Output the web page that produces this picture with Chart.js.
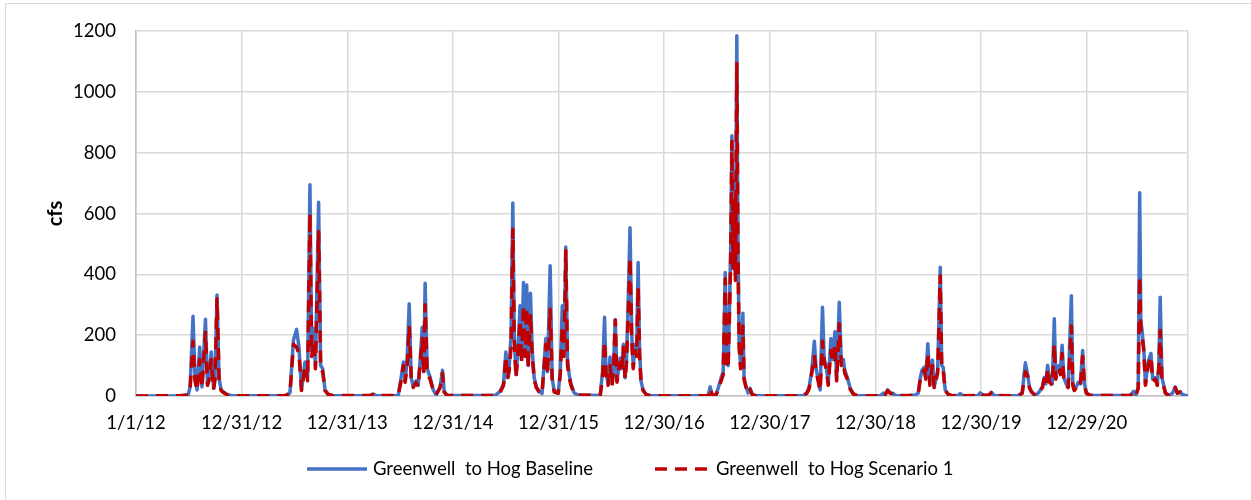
<!DOCTYPE html>
<html><head><meta charset="utf-8">
<script src="https://cdn.jsdelivr.net/npm/chart.js@4/dist/chart.umd.min.js"></script>
<style>
html,body{margin:0;padding:0;background:#fff;overflow:hidden;}
#wrap{position:relative;width:1251px;height:500px;overflow:hidden;}
#frame{position:absolute;left:5px;top:3px;width:1400px;height:700px;border:1px solid #d9d9d9;box-sizing:border-box;}
canvas{position:absolute;left:0;top:0;}
</style></head><body>
<div id="wrap"><div id="frame"></div><canvas id="c" width="1251" height="500"></canvas></div>
<script>
// Day index counted from 1/1/12
const days = [
  0,152,180,187,197,204,211,220,228,240,247,252,260,268,273,280,287,294,301,315,332,
  515,532,544,555,563,572,584,593,601,607,613,620,631,638,645,653,664,681,
  809,819,830,906,916,924,930,937,944,951,958,968,975,982,989,994,999,1006,1016,1027,1037,1051,1059,1065,1075,
  1241,1258,1270,1278,1284,1289,1296,1302,1307,1313,1320,1327,1332,1339,1345,1350,1355,1363,1369,1376,1383,1393,1403,1416,1422,1431,1438,1445,1459,1466,1473,1479,1485,1491,1497,1503,1514,1528,
  1604,1612,1619,1624,1631,1638,1645,1650,1656,1662,1669,1673,1678,1684,1690,1695,1702,1707,1713,1718,1725,1730,1735,1740,1745,1752,1763,1777,
  1977,1984,1991,2005,2016,2022,2029,2036,2041,2046,2051,2055,2059,2063,2068,2071,2076,2080,2084,2089,2097,2101,2108,2115,2122,2129,2139,
  2305,2318,2326,2335,2344,2350,2357,2364,2372,2378,2385,2392,2401,2407,2415,2421,2430,2437,2444,2449,2458,2468,2478,2492,
  2572,2583,2589,2597,2606,2616,2627,
  2675,2692,2703,2710,2716,2724,2729,2736,2743,2752,2758,2765,2770,2779,2784,2789,2796,2807,2820,
  2841,2848,2858,2910,2917,2928,2948,2955,2966,
  3021,3049,3062,3073,3081,3087,3094,3107,3118,3125,3132,3138,3144,3150,3157,3166,3173,3178,3183,3189,3194,3200,3206,3214,3221,3232,3237,3242,3249,3256,3263,3271,3277,3284,3297,
  3436,3447,3455,3463,3468,3472,3476,3482,3488,3493,3498,3507,3513,3522,3529,3534,3539,3545,3550,3557,3567,3581,3591,3598,3608,3615,3626,3635
];
const baseline = [
  0,1,3,30,262,60,20,161,30,252,40,60,145,25,60,332,60,20,14,4,1,
  1,10,183,219,161,20,112,60,695,150,222,100,637,100,90,20,6,1,
  2,6,1,2,60,112,50,120,303,60,30,50,35,120,226,80,371,90,63,20,4,30,85,15,2,
  2,15,40,145,60,90,200,635,200,70,150,297,120,373,150,365,100,338,150,60,30,15,8,189,80,428,60,15,10,80,297,150,490,120,70,40,10,3,
  2,80,259,80,40,128,40,100,251,50,100,124,90,170,60,120,363,553,200,100,170,150,439,150,50,20,5,1,
  1,30,2,5,40,60,80,406,120,100,300,500,856,450,720,400,1185,500,180,100,272,60,30,10,25,5,1,
  1,10,30,85,180,90,55,20,292,120,100,40,189,120,211,55,308,115,120,85,60,25,8,1,
  1,10,5,20,10,8,1,
  2,3,10,60,85,95,60,172,40,118,30,60,85,423,100,95,20,5,1,
  2,8,1,2,10,2,3,12,2,
  1,2,10,109,70,30,15,2,10,20,30,61,40,101,50,40,254,60,85,100,80,167,60,40,30,330,40,20,30,45,40,150,40,10,2,
  2,15,2,30,668,250,216,160,40,80,115,140,55,60,40,100,325,60,40,10,3,8,30,10,15,5,2,1
];
const scenario = [
  0,1,3,25,180,50,18,120,28,210,35,50,120,22,55,320,55,18,12,4,1,
  1,8,170,160,140,18,100,50,600,130,180,90,540,90,80,18,5,1,
  2,5,1,2,50,100,45,100,230,60,28,45,30,110,190,70,300,80,55,18,4,28,75,13,2,
  2,12,35,130,55,80,160,548,180,60,140,250,110,300,130,290,90,270,130,55,28,13,7,170,70,285,55,13,9,70,230,130,478,100,60,35,9,3,
  2,60,180,70,35,100,35,80,250,45,90,110,80,160,55,110,300,454,180,90,150,130,357,130,45,18,5,1,
  1,25,2,5,35,50,70,385,100,90,280,460,837,420,650,380,1098,460,160,90,230,55,28,9,22,5,1,
  1,9,25,75,130,80,50,18,180,110,90,35,150,110,170,50,238,100,110,75,55,22,7,1,
  1,9,5,18,9,7,1,
  2,3,9,55,75,85,55,140,35,100,28,55,75,395,90,85,18,5,1,
  2,7,1,2,9,2,3,11,2,
  1,2,9,80,65,28,13,2,9,18,28,55,35,90,45,35,170,55,75,90,70,140,55,35,28,230,35,18,28,40,35,130,35,9,2,
  2,13,2,25,392,220,200,150,35,70,100,130,50,55,35,90,215,55,35,9,3,7,28,9,13,5,2,1
];
const seriesNames = ['Greenwell  to Hog Baseline', 'Greenwell  to Hog Scenario 1'];
const tickDays = [0,365,730,1095,1460,1825,2190,2555,2920,3285];
const tickLabels = ['1/1/12','12/31/12','12/31/13','12/31/14','12/31/15','12/30/16','12/30/17','12/30/18','12/30/19','12/29/20'];
const xMax = 3635;
const yMax = 1200;
const yStep = 200;

const toPoints = vals => days.map((d, i) => ({x: d, y: vals[i]}));
const FONT = 'Lato';

const legendPlugin = {
  id: 'bottomLegend',
  afterDraw(chart) {
    const ctx = chart.ctx;
    const y = 469;
    const items = [{x0: 307, x1: 367, tx: 373, ds: 0}, {x0: 655, x1: 711, tx: 716, ds: 1}];
    ctx.save();
    items.forEach(it => {
      const ds = chart.data.datasets[it.ds];
      ctx.beginPath();
      ctx.strokeStyle = ds.borderColor;
      ctx.lineWidth = ds.borderWidth;
      ctx.lineCap = 'butt';
      ctx.setLineDash(ds.borderDash || []);
      ctx.moveTo(it.x0, y);
      ctx.lineTo(it.x1, y);
      ctx.stroke();
      ctx.setLineDash([]);
      ctx.fillStyle = '#000';
      ctx.font = '18.5px ' + FONT;
      ctx.textBaseline = 'middle';
      ctx.textAlign = 'left';
      ctx.fillText(ds.label, it.tx, y);
    });
    ctx.restore();
  }
};

new Chart(document.getElementById('c'), {
  type: 'line',
  data: {
    datasets: [
      {label: seriesNames[0], data: toPoints(baseline), borderColor: '#4472C4', backgroundColor: '#4472C4',
       borderWidth: 3.5, pointRadius: 0, tension: 0, order: 1, borderJoinStyle: 'round'},
      {label: seriesNames[1], data: toPoints(scenario), borderColor: '#C00000', backgroundColor: '#C00000',
       borderWidth: 3.5, borderDash: [12, 8], pointRadius: 0, tension: 0, order: 0, borderJoinStyle: 'round'}
    ]
  },
  options: {
    responsive: false,
    animation: false,
    layout: {padding: {top: 29, right: 63, left: 0, bottom: 0}},
    plugins: {legend: {display: false}, tooltip: {enabled: false}},
    scales: {
      x: {
        type: 'linear', min: 0, max: xMax,
        afterBuildTicks(s) { s.ticks = tickDays.map(v => ({value: v})).concat([{value: xMax}]); },
        ticks: {
          autoSkip: false, maxRotation: 0, padding: 16, color: '#000',
          font: {family: FONT, size: 18.5},
          callback: v => { const i = tickDays.indexOf(v); return i >= 0 ? tickLabels[i] : ''; }
        },
        grid: {color: '#d9d9d9', lineWidth: 1.5, drawTicks: false},
        border: {color: '#bfbfbf', width: 1.5},
        afterFit(s) { s.height = 104; }
      },
      y: {
        min: 0, max: yMax,
        ticks: {stepSize: yStep, padding: 20, color: '#000', font: {family: FONT, size: 18.5}, callback: v => String(v)},
        grid: {color: '#d9d9d9', lineWidth: 1.5, drawTicks: false},
        border: {color: '#bfbfbf', width: 1.5},
        title: {display: true, text: 'cfs', color: '#000', font: {family: FONT, size: 20, weight: 'bold'}, padding: {top: 44, bottom: 0}},
        afterFit(s) { s.width = 136; }
      }
    }
  },
  plugins: [legendPlugin]
});
</script>
</body></html>
